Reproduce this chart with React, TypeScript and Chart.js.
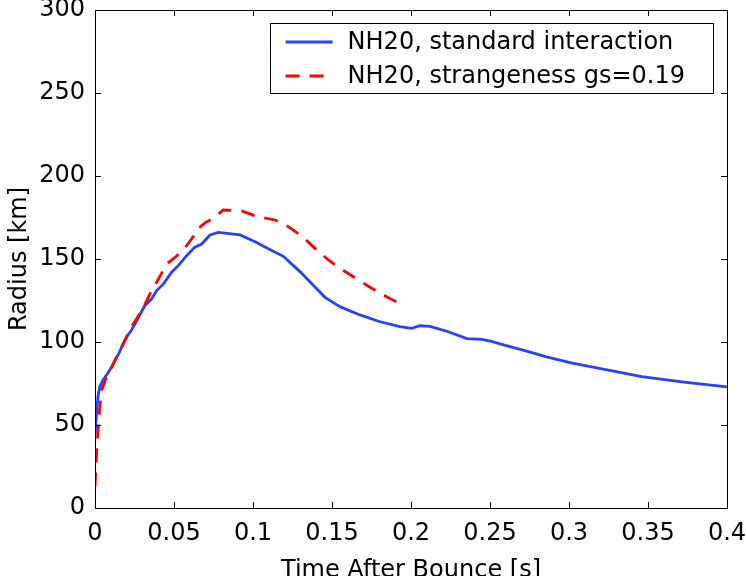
import React, { useEffect, useRef } from "react";
import { Chart, registerables } from "chart.js";

Chart.register(...registerables);

const standardT = [0, 0.001, 0.002, 0.003, 0.005, 0.008, 0.0106, 0.015, 0.02, 0.023, 0.027, 0.0316, 0.0359, 0.039, 0.0433, 0.0485, 0.0527, 0.058, 0.063, 0.0675, 0.0728, 0.078, 0.085, 0.0918, 0.0975, 0.1023, 0.11, 0.1192, 0.1297, 0.138, 0.1456, 0.155, 0.1677, 0.1804, 0.193, 0.2004, 0.2057, 0.212, 0.2227, 0.2354, 0.2449, 0.2503, 0.2557, 0.2715, 0.2864, 0.3014, 0.3184, 0.3461, 0.3715, 0.4];
const standardR = [43, 58, 68, 73, 77, 81, 85, 93, 103, 107, 114, 122, 126, 131, 135, 142, 146, 152, 157, 159, 164.5, 166, 165.3, 164.5, 162, 160, 156, 151.6, 142.4, 134.3, 126.9, 121.3, 116.3, 112.2, 109.2, 108.2, 109.8, 109.4, 106.5, 102, 101.6, 100.6, 99, 94.9, 90.9, 87.4, 84.2, 79.1, 76, 73];

const strangeT = [0, 0.001, 0.0027, 0.0042, 0.0074, 0.0137, 0.023, 0.0296, 0.0359, 0.039, 0.0454, 0.0517, 0.058, 0.0622, 0.0643, 0.07, 0.0749, 0.0812, 0.0928, 0.1013, 0.1139, 0.1224, 0.1319, 0.1392, 0.1477, 0.1561, 0.1656, 0.174, 0.1846, 0.195];
const strangeR = [13, 33, 57, 71, 79, 91, 109, 119, 131, 136, 147, 151.8, 158, 163.5, 167.5, 172, 174.5, 179.5, 179, 176, 173.5, 169.5, 163, 156.4, 149.4, 143.8, 138, 133, 127.3, 122];

const seriesLabels = ["NH20, standard interaction", "NH20, strangeness gs=0.19"];
const xTickStep = 0.05;
const yTickStep = 50;

const FONT = "DejaVu Sans";

const frameTicks = {
  id: "frameTicks",
  afterDraw(chart: any) {
    const { ctx, chartArea: a, scales } = chart;
    const xs = scales.x;
    const ys = scales.y;
    ctx.save();
    ctx.strokeStyle = "#000";
    ctx.lineWidth = 1;
    ctx.beginPath();
    ctx.rect(Math.round(a.left) + 0.5, Math.round(a.top) + 0.5, Math.round(a.right - a.left), Math.round(a.bottom - a.top));
    ctx.stroke();
    const L = 6;
    ctx.beginPath();
    xs.ticks.forEach((t: any) => {
      const px = Math.round(xs.getPixelForValue(t.value)) + 0.5;
      ctx.moveTo(px, a.bottom);
      ctx.lineTo(px, a.bottom - L);
      ctx.moveTo(px, a.top);
      ctx.lineTo(px, a.top + L);
    });
    ys.ticks.forEach((t: any) => {
      const py = Math.round(ys.getPixelForValue(t.value)) + 0.5;
      ctx.moveTo(a.left, py);
      ctx.lineTo(a.left + L, py);
      ctx.moveTo(a.right, py);
      ctx.lineTo(a.right - L, py);
    });
    ctx.stroke();

    // legend box
    ctx.font = `24px "${FONT}"`;
    const datasets = chart.data.datasets;
    const labels = [datasets[0], datasets[1]];
    const tw = Math.max(...labels.map((d: any) => ctx.measureText(d.label).width));
    const right = a.right - 14;
    const top = a.top + 13;
    const w = tw + 106;
    const left = right - w;
    const h = 70;
    ctx.fillStyle = "#fff";
    ctx.fillRect(left, top, w, h);
    ctx.strokeStyle = "#000";
    ctx.strokeRect(Math.round(left) + 0.5, Math.round(top) + 0.5, Math.round(w), h);
    labels.forEach((d: any, i: number) => {
      const y = top + 19 + i * 34;
      ctx.strokeStyle = d.borderColor;
      ctx.lineWidth = d.borderWidth;
      ctx.setLineDash(d.borderDash || []);
      ctx.beginPath();
      ctx.moveTo(left + 16, y);
      ctx.lineTo(left + 63, y);
      ctx.stroke();
      ctx.setLineDash([]);
      ctx.fillStyle = "#000";
      ctx.textBaseline = "middle";
      ctx.textAlign = "left";
      ctx.fillText(d.label, left + 78, y + 1);
    });
    ctx.restore();
  },
};

export default function App() {
  const ref = useRef<HTMLCanvasElement | null>(null);
  useEffect(() => {
    if (!ref.current) return;
    Chart.defaults.font.family = FONT;
    Chart.defaults.color = "#000";
    const chart = new Chart(ref.current, {
      type: "scatter",
      data: {
        datasets: [
          {
            label: seriesLabels[0],
            data: standardT.map((t, i) => ({ x: t, y: standardR[i] })),
            showLine: true,
            borderColor: "#2b3fff",
            backgroundColor: "#2b3fff",
            borderWidth: 2.8,
            pointRadius: 0,
            tension: 0,
            order: 1,
          },
          {
            label: seriesLabels[1],
            data: strangeT.map((t, i) => ({ x: t, y: strangeR[i] })),
            showLine: true,
            borderColor: "#ff0000",
            backgroundColor: "#ff0000",
            borderWidth: 2.8,
            borderDash: [14, 10],
            pointRadius: 0,
            tension: 0,
            order: 0,
          },
        ],
      },
      options: {
        responsive: false,
        animation: false,
        devicePixelRatio: 1,
        layout: { padding: { top: 10, right: 19, bottom: 0, left: 0 } },
        plugins: { legend: { display: false }, tooltip: { enabled: false } },
        scales: {
          x: {
            type: "linear",
            min: 0,
            max: 0.4,
            grid: { display: false, drawTicks: false },
            border: { display: true, color: "#000", width: 1 },
            ticks: {
              stepSize: xTickStep,
              padding: 11,
              color: "#000",
              font: { size: 24, family: FONT },
              maxRotation: 0,
              autoSkip: false,
              callback: (v: any) => String(Number(Number(v).toFixed(2))),
            },
            title: {
              display: true,
              text: "Time After Bounce [s]",
              color: "#000",
              font: { size: 24, family: FONT, lineHeight: 0.42 },
              padding: { top: 0, bottom: 0 },
            },
            afterFit: (s: any) => {
              s.height = 68;
              s.paddingLeft = 0;
              s.paddingRight = 0;
            },
          },
          y: {
            type: "linear",
            min: 0,
            max: 300,
            grid: { display: false, drawTicks: false },
            border: { display: true, color: "#000", width: 1 },
            ticks: {
              stepSize: yTickStep,
              padding: 10,
              color: "#000",
              font: { size: 24, family: FONT },
            },
            title: {
              display: true,
              text: "Radius [km]",
              color: "#000",
              font: { size: 24, family: FONT, lineHeight: 1 },
              padding: { top: 8, bottom: 0 },
            },
            afterFit: (s: any) => {
              s.width = 95;
              s.paddingTop = 0;
              s.paddingBottom = 0;
            },
          },
        },
      },
      plugins: [frameTicks],
    });
    return () => chart.destroy();
  }, []);
  return (
    <div style={{ position: "fixed", left: 0, top: 0, width: 746, height: 576, background: "#fff" }}>
      <canvas ref={ref} width={746} height={576} style={{ display: "block" }} />
    </div>
  );
}
